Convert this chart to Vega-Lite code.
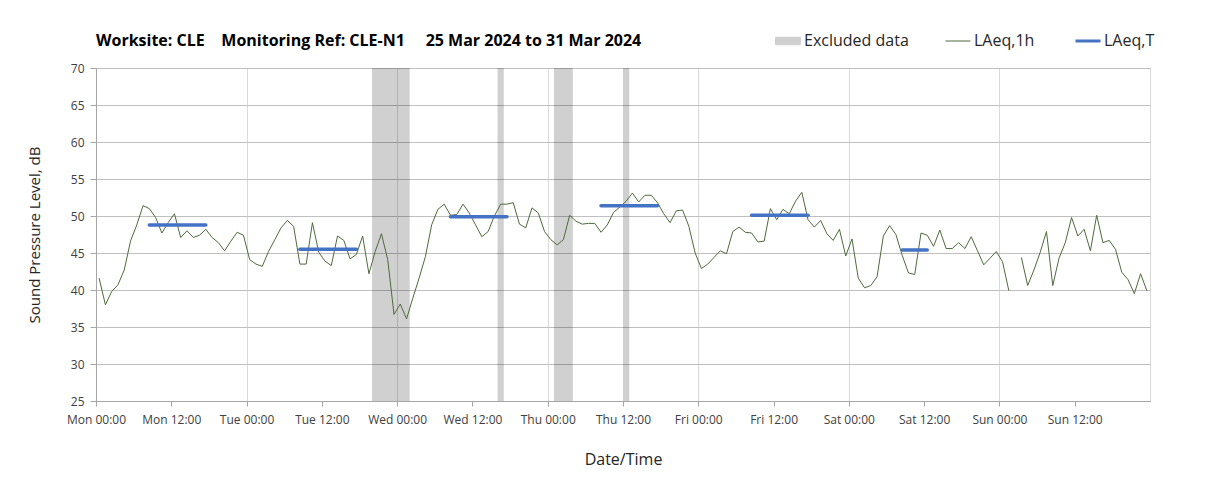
{
  "$schema": "https://vega.github.io/schema/vega-lite/v6.json",
  "width": 1054,
  "height": 333,
  "autosize": {"type": "none"},
  "padding": {"left": 96, "top": 68, "right": 58, "bottom": 90},
  "background": "white",
  "config": {
    "view": {"stroke": "#bfbfbf", "strokeWidth": 1},
    "axis": {"labelFont": "Open Sans", "titleFont": "Open Sans", "labelColor": "#404040", "titleColor": "#262626", "titleFontWeight": "normal", "domainColor": "#a6a6a6", "tickColor": "#a6a6a6"}
  },
  "title": {
    "text": "Worksite: CLE\u00a0\u00a0\u00a0\u00a0Monitoring Ref: CLE-N1\u00a0\u00a0\u00a0\u00a0\u00a025 Mar 2024 to 31 Mar 2024",
    "anchor": "start", "frame": "group", "font": "Open Sans", "fontSize": 16, "fontWeight": "bold", "color": "#000000", "offset": -16
  },
  "datasets": {
    "hourly": [
      {"h":0.5,"v":41.6},{"h":1.5,"v":38.0},{"h":2.5,"v":39.8},{"h":3.5,"v":40.7},{"h":4.5,"v":42.7},{"h":5.5,"v":46.6},{"h":6.5,"v":48.8},{"h":7.5,"v":51.4},{"h":8.5,"v":51.0},{"h":9.5,"v":49.8},{"h":10.5,"v":47.7},{"h":11.5,"v":49.1},{"h":12.5,"v":50.3},{"h":13.5,"v":47.1},{"h":14.5,"v":48.0},{"h":15.5,"v":47.1},{"h":16.5,"v":47.4},{"h":17.5,"v":48.2},{"h":18.5,"v":47.1},{"h":19.5,"v":46.4},{"h":20.5,"v":45.3},{"h":21.5,"v":46.6},{"h":22.5,"v":47.8},{"h":23.5,"v":47.4},
      {"h":24.5,"v":44.1},{"h":25.5,"v":43.5},{"h":26.5,"v":43.2},{"h":27.5,"v":45.2},{"h":28.5,"v":46.8},{"h":29.5,"v":48.4},{"h":30.5,"v":49.4},{"h":31.5,"v":48.6},{"h":32.5,"v":43.5},{"h":33.5,"v":43.5},{"h":34.5,"v":49.1},{"h":35.5,"v":45.1},{"h":36.5,"v":43.9},{"h":37.5,"v":43.3},{"h":38.5,"v":47.3},{"h":39.5,"v":46.7},{"h":40.5,"v":44.2},{"h":41.5,"v":44.8},{"h":42.5,"v":47.3},{"h":43.5,"v":42.2},{"h":44.5,"v":45.2},{"h":45.5,"v":47.6},{"h":46.5,"v":44.1},{"h":47.5,"v":36.7},
      {"h":48.5,"v":38.1},{"h":49.5,"v":36.1},{"h":50.5,"v":38.9},{"h":51.5,"v":41.6},{"h":52.5,"v":44.5},{"h":53.5,"v":48.8},{"h":54.5,"v":50.9},{"h":55.5,"v":51.6},{"h":56.5,"v":50.1},{"h":57.5,"v":50.2},{"h":58.5,"v":51.6},{"h":59.5,"v":50.4},{"h":60.5,"v":48.8},{"h":61.5,"v":47.2},{"h":62.5,"v":47.9},{"h":63.5,"v":50.0},{"h":64.5,"v":51.6},{"h":65.5,"v":51.6},{"h":66.5,"v":51.8},{"h":67.5,"v":48.9},{"h":68.5,"v":48.4},{"h":69.5,"v":51.1},{"h":70.5,"v":50.4},{"h":71.5,"v":47.9},
      {"h":72.5,"v":46.8},{"h":73.5,"v":46.1},{"h":74.5,"v":46.8},{"h":75.5,"v":50.1},{"h":76.5,"v":49.3},{"h":77.5,"v":48.9},{"h":78.5,"v":49.0},{"h":79.5,"v":49.0},{"h":80.5,"v":47.8},{"h":81.5,"v":48.8},{"h":82.5,"v":50.5},{"h":83.5,"v":51.2},{"h":84.5,"v":52.0},{"h":85.5,"v":53.1},{"h":86.5,"v":51.9},{"h":87.5,"v":52.8},{"h":88.5,"v":52.8},{"h":89.5,"v":51.8},{"h":90.5,"v":50.3},{"h":91.5,"v":49.1},{"h":92.5,"v":50.7},{"h":93.5,"v":50.8},{"h":94.5,"v":48.6},{"h":95.5,"v":45.0},
      {"h":96.5,"v":42.9},{"h":97.5,"v":43.5},{"h":98.5,"v":44.4},{"h":99.5,"v":45.3},{"h":100.5,"v":44.9},{"h":101.5,"v":47.9},{"h":102.5,"v":48.5},{"h":103.5,"v":47.8},{"h":104.5,"v":47.7},{"h":105.5,"v":46.5},{"h":106.5,"v":46.6},{"h":107.5,"v":51.0},{"h":108.5,"v":49.5},{"h":109.5,"v":50.9},{"h":110.5,"v":50.3},{"h":111.5,"v":52.0},{"h":112.5,"v":53.2},{"h":113.5,"v":49.5},{"h":114.5,"v":48.5},{"h":115.5,"v":49.4},{"h":116.5,"v":47.6},{"h":117.5,"v":46.7},{"h":118.5,"v":48.2},{"h":119.5,"v":44.6},
      {"h":120.5,"v":46.9},{"h":121.5,"v":41.6},{"h":122.5,"v":40.3},{"h":123.5,"v":40.6},{"h":124.5,"v":41.8},{"h":125.5,"v":47.3},{"h":126.5,"v":48.7},{"h":127.5,"v":47.5},{"h":128.5,"v":44.7},{"h":129.5,"v":42.3},{"h":130.5,"v":42.1},{"h":131.5,"v":47.7},{"h":132.5,"v":47.4},{"h":133.5,"v":45.9},{"h":134.5,"v":48.1},{"h":135.5,"v":45.6},{"h":136.5,"v":45.6},{"h":137.5,"v":46.4},{"h":138.5,"v":45.6},{"h":139.5,"v":47.2},{"h":140.5,"v":45.3},{"h":141.5,"v":43.4},{"h":142.5,"v":44.3},{"h":143.5,"v":45.2},
      {"h":144.5,"v":43.8},{"h":145.5,"v":39.9},{"h":146.5,"v":null},{"h":147.5,"v":44.4},{"h":148.5,"v":40.6},{"h":149.5,"v":42.7},{"h":150.5,"v":45.1},{"h":151.5,"v":47.9},{"h":152.5,"v":40.6},{"h":153.5,"v":44.3},{"h":154.5,"v":46.4},{"h":155.5,"v":49.8},{"h":156.5,"v":47.3},{"h":157.5,"v":48.2},{"h":158.5,"v":45.3},{"h":159.5,"v":50.1},{"h":160.5,"v":46.4},{"h":161.5,"v":46.7},{"h":162.5,"v":45.5},{"h":163.5,"v":42.4},{"h":164.5,"v":41.4},{"h":165.5,"v":39.5},{"h":166.5,"v":42.2},{"h":167.5,"v":39.9}
    ],
    "periods": [
      {"s":8.5,"e":17.5,"v":48.8},
      {"s":32.5,"e":41.5,"v":45.5},
      {"s":56.5,"e":65.5,"v":49.9},
      {"s":80.5,"e":89.5,"v":51.4},
      {"s":104.5,"e":113.5,"v":50.1},
      {"s":128.5,"e":132.5,"v":45.4}
    ],
    "excluded": [
      {"s":44,"e":50},
      {"s":64,"e":65},
      {"s":73,"e":76},
      {"s":84,"e":85}
    ]
  },
  "resolve": {"axis": {"x": "independent"}},
  "layer": [
    {
      "data": {"name": "excluded"},
      "mark": {"type": "rect", "color": "#000000", "opacity": 0.185},
      "encoding": {
        "x": {"field": "s", "type": "quantitative", "scale": {"domain": [0, 168], "nice": false, "zero": false},
          "axis": {"orient": "top", "values": [0, 24, 48, 72, 96, 120, 144, 168], "tickCount": 20, "grid": true, "gridColor": "#d9d9d9", "labels": false, "ticks": false, "domain": false, "title": null}},
        "x2": {"field": "e"}
      }
    },
    {
      "data": {"name": "hourly"},
      "mark": {"type": "line", "strokeWidth": 1},
      "encoding": {
        "x": {"field": "h", "type": "quantitative",
          "axis": {"orient": "bottom", "title": "Date/Time", "values": [0, 12, 24, 36, 48, 60, 72, 84, 96, 108, 120, 132, 144, 156], "tickCount": 30, "grid": false,
            "labelExpr": "['Mon','Tue','Wed','Thu','Fri','Sat','Sun'][floor(datum.value / 24)] + (datum.value % 24 === 0 ? ' 00:00' : ' 12:00')",
            "labelFontSize": 12, "labelPadding": 8, "tickSize": 5, "titleFontSize": 16, "titlePadding": 26, "labelFlush": false, "labelOverlap": false}},
        "y": {"field": "v", "type": "quantitative", "scale": {"domain": [25, 70], "nice": false, "zero": false},
          "axis": {"title": "Sound Pressure Level, dB", "values": [25,30,35,40,45,50,55,60,65,70], "tickCount": 20, "labelOverlap": false, "labelFontSize": 12, "labelPadding": 6, "tickSize": 6, "titleFontSize": 15, "titlePadding": 28, "gridColor": "#bfbfbf"}},
        "color": {"datum": "LAeq,1h", "type": "nominal",
          "scale": {"domain": ["Excluded data", "LAeq,1h", "LAeq,T"], "range": ["#d0d0d0", "#4e6b3c", "#4472c4"]},
          "legend": {"title": null, "orient": "none", "legendX": 684, "legendY": -35, "direction": "horizontal", "labelFont": "Open Sans", "labelFontSize": 16, "labelColor": "#262626", "labelOffset": 8, "columnPadding": 34, "symbolSize": 625, "symbolType": "stroke", "symbolStrokeWidth": 2,
            "encode": {"symbols": {"update": {
              "shape": {"signal": "datum.value === 'Excluded data' ? 'M-1,-0.3H1V0.3H-1Z' : 'stroke'"},
              "fill": {"signal": "datum.value === 'Excluded data' ? '#d0d0d0' : 'transparent'"},
              "stroke": {"signal": "datum.value === 'Excluded data' ? 'transparent' : (datum.value === 'LAeq,T' ? '#4472c4' : '#4e6b3c')"},
              "strokeWidth": {"signal": "datum.value === 'LAeq,T' ? 3 : 1"}
            }}}}
        }
      }
    },
    {
      "data": {"name": "periods"},
      "mark": {"type": "rule", "strokeWidth": 3.5, "strokeCap": "round"},
      "encoding": {
        "x": {"field": "s", "type": "quantitative", "axis": null},
        "x2": {"field": "e"},
        "y": {"field": "v", "type": "quantitative"},
        "color": {"datum": "LAeq,T", "type": "nominal"}
      }
    }
  ]
}
